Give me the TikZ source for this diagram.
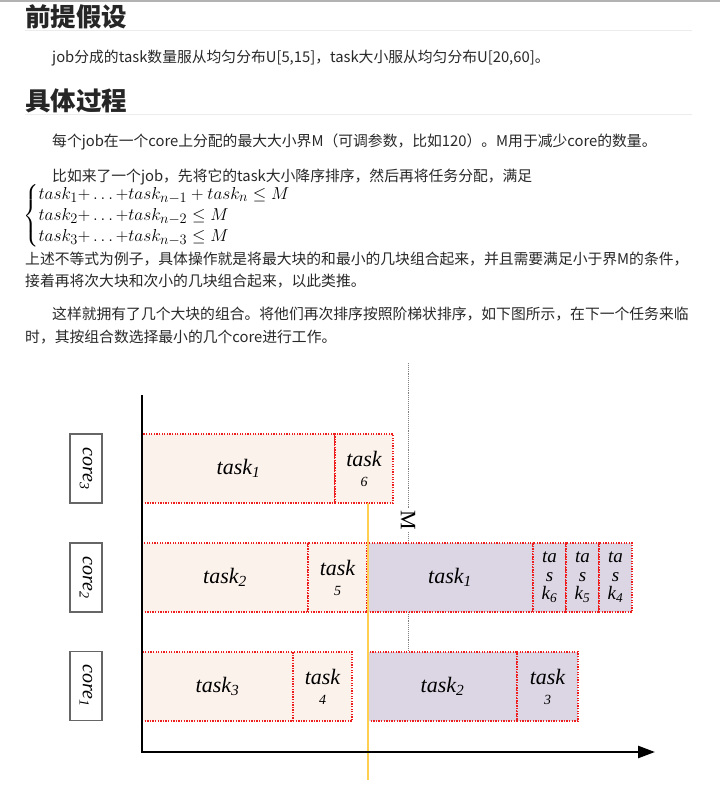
\documentclass[tikz,border=0pt]{standalone}
\usepackage{amsmath}
\usepackage{fontspec}
\setmainfont{Noto Sans CJK SC}
\newfontfamily\serif{Liberation Serif}
\usetikzlibrary{arrows.meta,positioning}
\definecolor{ctext}{RGB}{40,40,40}
\definecolor{cpeach}{RGB}{252,242,236}
\definecolor{clilac}{RGB}{220,214,228}
\definecolor{cdot}{RGB}{238,30,30}
\definecolor{cgold}{RGB}{255,208,80}
\definecolor{crule}{RGB}{236,236,236}
\newcommand\tk[1]{task\textsubscript{#1}}
\tikzset{px/.style={x=1pt,y=-1pt},
  para/.style={anchor=base west,inner sep=0pt,text=ctext,font=\fontsize{14.8}{18}\selectfont},
  head/.style={anchor=base west,inner sep=0pt,text=black!85,font=\fontsize{25.5}{30}\selectfont\bfseries},
  blk/.style={draw=cdot,dash pattern=on 1.3pt off 1.3pt,line width=1.3pt,inner sep=0pt,outer sep=0pt,
    minimum height=69pt,align=center,font=\serif\itshape\fontsize{22}{22}\selectfont},
  oldb/.style={blk,fill=cpeach},
  newb/.style={blk,fill=clilac},
  thin/.style={font=\serif\itshape\fontsize{19}{18.5}\selectfont},
  corebox/.style={draw=black!60,line width=1.2pt,fill=white,rotate=-90,minimum width=69pt,minimum height=32pt,
    inner sep=0pt,font=\serif\itshape\fontsize{20}{20}\selectfont}}

\begin{document}
\begin{tikzpicture}[px]
  \fill[white] (0,0) rectangle (720,786);
  \useasboundingbox (0,0) rectangle (720,786);
  \draw[black!30,line width=2pt] (0,1) -- (720,1); % top border

  % text part
  \node[head] (h1) at (25,27) {前提假设};
  \draw[crule,line width=1pt] (25,31) -- (692,31);
  \node[para] (p1) at (52,62.5) {job分成的task数量服从均匀分布U[5,15]，task大小服从均匀分布U[20,60]。};
  \node[head] (h2) at (25,111) {具体过程};
  \draw[crule,line width=1pt] (25,115) -- (692,115);
  \node[para] (p2) at (52,146.5) {每个job在一个core上分配的最大大小界M（可调参数，比如120）。M用于减少core的数量。};
  \node[para] (p3) at (52,181.5) {比如来了一个job，先将它的task大小降序排序，然后再将任务分配，满足};
  \node[anchor=west,inner sep=0pt,font=\fontsize{19}{21}\selectfont] (eq) at (23,216)
    {$\left\{\begin{array}{@{}l@{}}
      task_1{+}\ldots{+}task_{n-1}+task_n\le M\\
      task_2{+}\ldots{+}task_{n-2}\le M\\
      task_3{+}\ldots{+}task_{n-3}\le M
    \end{array}\right.$};
  \node[para] (p4) at (25,264.5) {上述不等式为例子，具体操作就是将最大块的和最小的几块组合起来，并且需要满足小于界M的条件，};
  \node[para] (p5) at (25,286.5) {接着再将次大块和次小的几块组合起来，以此类推。};
  \node[para] (p6) at (52,319.5) {这样就拥有了几个大块的组合。将他们再次排序按照阶梯状排序，如下图所示，在下一个任务来临};
  \node[para] (p7) at (25,342.5) {时，其按组合数选择最小的几个core进行工作。};

  % the bound M
  \draw[black!50,densely dotted,line width=0.9pt] (408,363) -- (408,652);
  \node[fill=white,inner sep=1pt,rotate=-90,font=\serif\fontsize{22}{22}\selectfont] (mlab) at (408,520) {M};

  % cores
  \foreach \i/\y in {3/468.5,2/577.5,1/686} \node[corebox] (core\i) at (86,\y) {core\textsubscript{\i}};

  % core 3
  \node[oldb,minimum width=193pt,anchor=north west] (a1) at (142,434) {\tk{1}};
  \node[oldb,minimum width=58pt,right=0pt of a1] (a6) {task\\[-2pt]{\fontsize{14}{14}\selectfont 6}};
  % core 2
  \node[oldb,minimum width=166pt,anchor=north west] (b2) at (142,543) {\tk{2}};
  \node[oldb,minimum width=59pt,right=0pt of b2] (b5) {task\\[-2pt]{\fontsize{14}{14}\selectfont 5}};
  \node[newb,minimum width=166pt,right=0pt of b5] (c1) {\tk{1}};
  \node[newb,thin,minimum width=33pt,right=0pt of c1] (c6) {ta\\s\\k\textsubscript{6}};
  \node[newb,thin,minimum width=33pt,right=0pt of c6] (c5) {ta\\s\\k\textsubscript{5}};
  \node[newb,thin,minimum width=33pt,right=0pt of c5] (c4) {ta\\s\\k\textsubscript{4}};
  % core 1
  \node[oldb,minimum width=151pt,anchor=north west] (d3) at (142,652) {\tk{3}};
  \node[oldb,minimum width=59pt,right=0pt of d3] (d4) {task\\[-2pt]{\fontsize{14}{14}\selectfont 4}};
  \node[newb,minimum width=149pt,anchor=north west] (e2) at (368,652) {\tk{2}};
  \node[newb,minimum width=61pt,right=0pt of e2] (e3) {task\\[-2pt]{\fontsize{14}{14}\selectfont 3}};

  \draw[cgold,line width=2pt] (368,503) -- (368,780); % yellow cut line
  \draw[line width=2.5pt,-{Triangle[length=17pt,width=12pt]}] (142,395) |- (655,752); % axes
\end{tikzpicture}
\end{document}
